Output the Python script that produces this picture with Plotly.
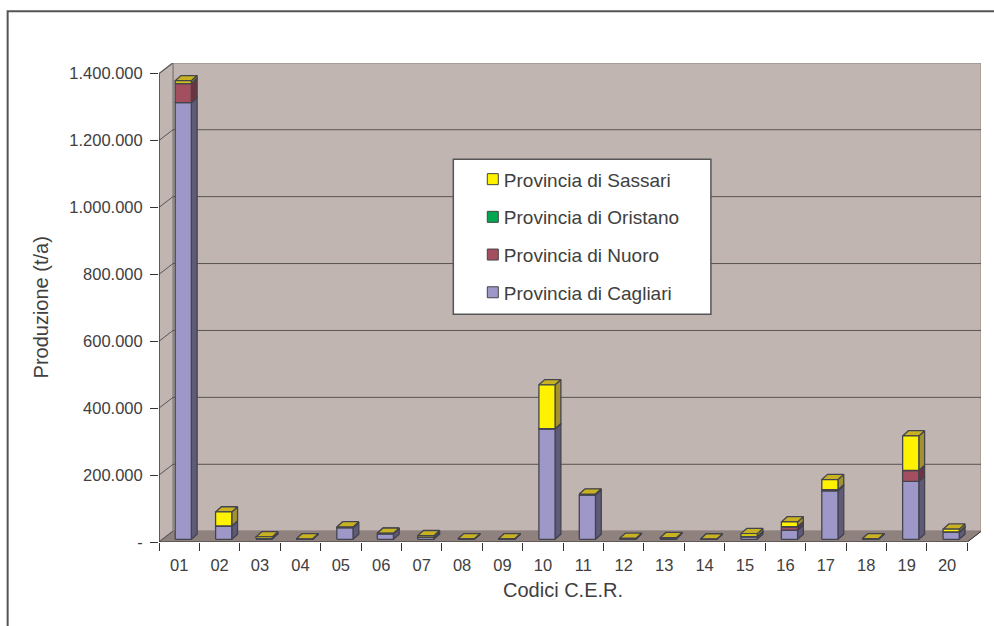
import plotly.graph_objects as go

categories = ["01","02","03","04","05","06","07","08","09","10","11","12","13","14","15","16","17","18","19","20"]
cagliari = [1305000,39000,2000,300,35000,17000,6000,500,500,330000,133000,1500,3000,200,7000,27000,145000,500,173000,21000]
nuoro    = [57000,500,100,100,300,200,500,100,100,500,500,100,300,100,1000,10000,3000,100,32000,1000]
oristano = [500,200,100,100,200,100,200,100,100,300,300,100,100,100,500,1000,500,100,1000,300]
sassari  = [8000,42000,5000,1000,1500,1000,4000,900,900,131000,1500,1500,1500,600,8500,14000,30000,900,103000,8000]
series_names = ["Provincia di Cagliari","Provincia di Nuoro","Provincia di Oristano","Provincia di Sassari"]
series_values = [cagliari, nuoro, oristano, sassari]
front_colors = ["#9E98C9","#A44F60","#00A650","#FFF200"]
side_colors  = ["#5E5A78","#6C3440","#006A34","#A3922E"]
top_colors   = ["#8A86B4","#8E4452","#009048","#C9B222"]
edge = "#44444E"
y_ticks = [0,200000,400000,600000,800000,1000000,1200000,1400000]
y_labels = ["-","200.000","400.000","600.000","800.000","1.000.000","1.200.000","1.400.000"]

W,H = 994,626
L,R,T,B = 159.3,13,62.7,84.3
cat_px = 40.4
val_per_px = 1400000/468.4
n = len(categories)
x_max = (W-L-R)/cat_px
y_max = (H-T-B)*val_per_px
wall_dx = 14/cat_px
wall_dy = 10.8*val_per_px
bar_left, bar_right = 0.40, 0.80
bar_base = 2.7*val_per_px
bar_dx = 5.8/cat_px
bar_dy = 5.2*val_per_px
txt = "#404040"

def px_x(p): return (p-L)/(W-L-R)
def px_y(p): return 1-(p-T)/(H-T-B)

fig = go.Figure()
def poly(xs,ys,fill,line=None,lw=1):
    fig.add_trace(go.Scatter(x=xs,y=ys,mode="lines",fill="toself",fillcolor=fill,
        line=dict(color=line or fill,width=lw),showlegend=False,hoverinfo="skip",cliponaxis=False))
def seg(xs,ys,color,lw=1):
    fig.add_trace(go.Scatter(x=xs,y=ys,mode="lines",line=dict(color=color,width=lw),
        showlegend=False,hoverinfo="skip",cliponaxis=False))

top = y_ticks[-1]
poly([wall_dx,n+wall_dx,n+wall_dx,wall_dx,wall_dx],[wall_dy,wall_dy,top+wall_dy,top+wall_dy,wall_dy],"#C0B5B1","#8F8682",1.5)
poly([0,wall_dx,wall_dx,0,0],[0,wall_dy,top+wall_dy,top,0],"#C0B5B1","#8F8682",1.5)
poly([0,n,n+wall_dx,wall_dx,0],[0,0,wall_dy,wall_dy,0],"#8F817D","#8F817D",1)
for v in y_ticks[1:-1]:
    seg([0,wall_dx,n+wall_dx],[v,v+wall_dy,v+wall_dy],"#5A5452",1)
seg([0,wall_dx],[0,wall_dy],"#5A5452",1)
seg([0,wall_dx],[top,top+wall_dy],"#5A5452",1)
seg([0,0],[0,top],"#333333",1.2)
seg([0,n],[0,0],"#333333",1.2)
seg([n,n+wall_dx],[0,wall_dy],"#333333",1)

base = [bar_base]*n
for vals,fc,sc,tc in zip(series_values,front_colors,side_colors,top_colors):
    fx,fy,sx,sy,tx,ty = [],[],[],[],[],[]
    for i,v in enumerate(vals):
        a,b = i+bar_left,i+bar_right
        y0,y1 = base[i],base[i]+v
        fx += [a,b,b,a,a,None]; fy += [y0,y0,y1,y1,y0,None]
        sx += [b,b+bar_dx,b+bar_dx,b,b,None]; sy += [y0,y0+bar_dy,y1+bar_dy,y1,y0,None]
        tx += [a,b,b+bar_dx,a+bar_dx,a,None]; ty += [y1,y1,y1+bar_dy,y1+bar_dy,y1,None]
        base[i] = y1
    poly(sx,sy,sc,edge,1.3)
    poly(tx,ty,tc,edge,1.3)
    poly(fx,fy,fc,edge,1.3)

for name,fc in reversed(list(zip(series_names,front_colors))):
    fig.add_trace(go.Scatter(x=[None],y=[None],mode="markers",name=name,legendgroup=name,
        marker=dict(symbol="square",size=11,color=fc,line=dict(color="#444444",width=1))))

fig.update_layout(
    width=W,height=H,margin=dict(l=L,r=R,t=T,b=B,pad=0,autoexpand=False),
    paper_bgcolor="white",plot_bgcolor="rgba(0,0,0,0)",
    font=dict(family="Liberation Sans, Arial, sans-serif",color=txt),
    showlegend=True,
    legend=dict(x=px_x(464),y=px_y(160),xanchor="left",yanchor="top",bgcolor="rgba(0,0,0,0)",
                font=dict(size=19,color=txt),tracegroupgap=10,traceorder="grouped",itemsizing="trace"),
    xaxis=dict(range=[0,x_max],showgrid=False,zeroline=False,showline=False,
        tickmode="array",tickvals=[i+0.5 for i in range(n)],ticktext=categories,
        ticks="outside",ticklen=8,tickcolor="rgba(0,0,0,0)",tickfont=dict(size=16.5,color=txt),
        minor=dict(tickmode="array",tickvals=list(range(n+1)),ticks="outside",ticklen=8,tickcolor="#333333",tickwidth=1,showgrid=False)),
    yaxis=dict(range=[0,y_max],showgrid=False,zeroline=False,showline=False,
        tickmode="array",tickvals=y_ticks,ticktext=y_labels,ticks="outside",ticklen=8,tickcolor="#333333",tickwidth=1,
        ticklabelstandoff=4,tickfont=dict(size=16.5,color=txt)),
    annotations=[
        dict(text="Codici C.E.R.",xref="paper",yref="paper",x=px_x(563),y=px_y(590),xanchor="center",yanchor="middle",showarrow=False,font=dict(size=20,color=txt)),
        dict(text="Produzione (t/a)",xref="paper",yref="paper",x=px_x(41.5),y=px_y(307),xanchor="center",yanchor="middle",textangle=-90,showarrow=False,font=dict(size=20,color=txt)),
    ],
    shapes=[
        dict(type="rect",xref="paper",yref="paper",x0=px_x(453.5),x1=px_x(711),y0=px_y(159),y1=px_y(314),
             fillcolor="white",line=dict(color="#555555",width=1.5),layer="above"),
        dict(type="rect",xref="paper",yref="paper",x0=px_x(8),x1=px_x(1010),y0=px_y(11),y1=px_y(650),
             fillcolor="rgba(0,0,0,0)",line=dict(color="#555555",width=2),layer="below"),
    ],
)
fig.write_html("out.html",config={"displayModeBar":False},
    post_script="document.body.style.margin='0';document.querySelectorAll('.legend .layers').forEach(function(e){e.setAttribute('transform','translate(9,0)');});")
